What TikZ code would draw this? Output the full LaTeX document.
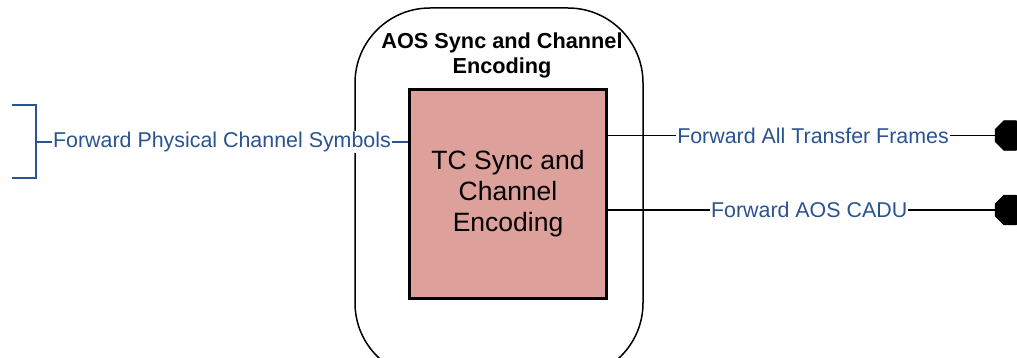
\documentclass[tikz,border=0pt]{standalone}
\usepackage{fontspec}
\setmainfont{Liberation Sans}
\usetikzlibrary{shapes.geometric}
\definecolor{linkblue}{RGB}{43,83,145}
\definecolor{boxpink}{RGB}{221,160,155}
\tikzstyle{group} = [rectangle, rounded corners=37.5pt, minimum width=144pt, minimum height=185pt, draw=black, line width=0.75pt]
\tikzstyle{grouptitle} = [align=center, inner sep=0pt, font=\fontsize{10.85}{12.5}\selectfont\bfseries]
\tikzstyle{process} = [rectangle, minimum width=98.5pt, minimum height=104.5pt, align=center, draw=black, line width=1.5pt, fill=boxpink, font=\fontsize{13.25}{15.5}\selectfont]
\tikzstyle{port} = [regular polygon, regular polygon sides=8, minimum size=16pt, inner sep=0pt, draw=black, fill=black]
\tikzstyle{flow} = [draw=black, line width=0.75pt]
\tikzstyle{bus} = [draw=linkblue, line width=0.6pt]
\tikzstyle{flowlabel} = [fill=white, text=linkblue, inner sep=0.5pt, font=\fontsize{10.7}{12}\selectfont]

\begin{document}
\begin{tikzpicture}[x=0.5pt, y=-0.5pt, node distance=37.25pt]
\useasboundingbox (0,0) rectangle (1017,358);
\clip (0,0) rectangle (1017,358);

\node (aos) [group] at (499,193) {};
\node (aostitle) [grouptitle] at (502,55) {AOS Sync and Channel\\Encoding};
\node (tc) [process] at (508,194) {TC Sync and\\Channel\\Encoding};
\node (frames) [port] at (1010,135.5) {};
\node (cadu) [port, below of=frames] {};
\coordinate (symbols) at (36,142);

% bracket
\draw [bus] (12,105) -- (36,105) -- (36,178) -- (12,178);

\draw [bus] (symbols) -- node[flowlabel]{Forward Physical Channel Symbols} (tc.west |- symbols);
\draw [flow] (tc.east |- frames) -- node[flowlabel, pos=0.53]{Forward All Transfer Frames} (frames);
\draw [flow] (tc.east |- cadu) -- node[flowlabel, pos=0.52]{Forward AOS CADU} (cadu);

\end{tikzpicture}
\end{document}
